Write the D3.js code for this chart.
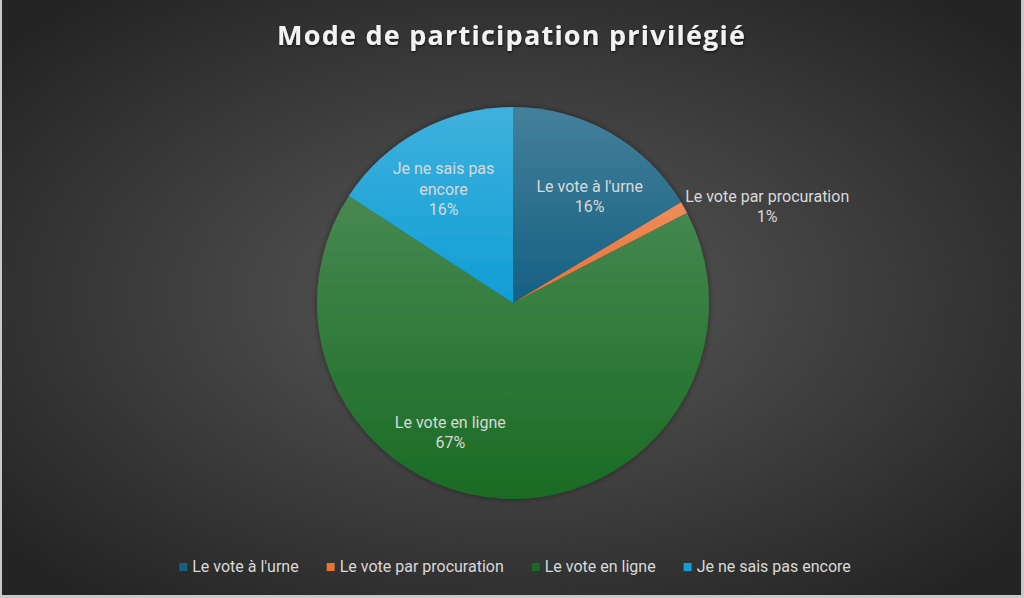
<!DOCTYPE html>
<html>
<head>
<meta charset="utf-8">
<script src="https://cdn.jsdelivr.net/npm/d3@7"></script>
<style>
  html, body { margin: 0; padding: 0; background: #ffffff; }
  svg { display: block; }
</style>
</head>
<body>
<svg id="chart" width="1024" height="598"></svg>
<script>
// data
const categories = ["Le vote à l'urne", "Le vote par procuration", "Le vote en ligne", "Je ne sais pas encore"];
const values = [16.4, 1.0, 66.8, 15.8];
const labelLines = [["Le vote à l'urne"], ["Le vote par procuration"], ["Le vote en ligne"], ["Je ne sais pas", "encore"]];
const colors = ["#156082", "#E97132", "#196B24", "#0F9ED5"];

const W = 1024, H = 598;
const cx = 513, cy = 303, R = 196;
const font = "'Roboto', sans-serif";
const lineH = 20.5;

// nudges for the data labels (Excel best-fit placement), relative to centroid
const labelNudge = [[11, 10], [18, 36], [-56, -3], [-6, 4]];

const svg = d3.select('#chart');
const defs = svg.append('defs');

// background
const bg = defs.append('radialGradient').attr('id', 'bg')
  .attr('cx', '50%').attr('cy', '50%').attr('r', '65%');
bg.append('stop').attr('offset', '0%').attr('stop-color', '#5a5a5a');
bg.append('stop').attr('offset', '100%').attr('stop-color', '#242424');

svg.append('rect').attr('x', 0).attr('y', 0).attr('width', W).attr('height', H).attr('fill', '#c9c9c9');
svg.append('rect').attr('x', 2).attr('y', 0).attr('width', W - 5).attr('height', H - 3).attr('fill', 'url(#bg)');

// slice gradients
colors.forEach(function(c, i) {
  const g = defs.append('linearGradient').attr('id', 'g' + i)
    .attr('x1', 0).attr('y1', 0).attr('x2', 0).attr('y2', 1);
  g.append('stop').attr('offset', '0%').attr('stop-color', d3.interpolateRgb(c, '#ffffff')(0.2));
  g.append('stop').attr('offset', '100%').attr('stop-color', c);
});

const shadow = defs.append('filter').attr('id', 'shadow')
  .attr('x', '-20%').attr('y', '-20%').attr('width', '140%').attr('height', '140%');
shadow.append('feDropShadow').attr('dx', 0).attr('dy', 0).attr('stdDeviation', 3)
  .attr('flood-color', '#000').attr('flood-opacity', 0.45);

const titleShadow = defs.append('filter').attr('id', 'tshadow');
titleShadow.append('feDropShadow').attr('dx', 0.5).attr('dy', 1.5).attr('stdDeviation', 1.2)
  .attr('flood-color', '#000').attr('flood-opacity', 0.6);

// title
svg.append('text')
  .attr('x', 511).attr('y', 45)
  .attr('text-anchor', 'middle')
  .attr('font-family', "'Open Sans', sans-serif")
  .attr('font-weight', 'bold')
  .attr('font-size', 27)
  .attr('textLength', 468)
  .attr('lengthAdjust', 'spacing')
  .attr('fill', '#f2f2f2')
  .attr('filter', 'url(#tshadow)')
  .text('Mode de participation privilégié');

// pie
const pie = d3.pie().sort(null).value(d => d);
const arcs = pie(values);
const arc = d3.arc().innerRadius(0).outerRadius(R);
const labelArc = d3.arc().innerRadius(R * 0.68).outerRadius(R * 0.68);
const outArc = d3.arc().innerRadius(R * 1.38).outerRadius(R * 1.38);

const g = svg.append('g').attr('transform', `translate(${cx},${cy})`);

g.append('g').attr('filter', 'url(#shadow)')
  .selectAll('path')
  .data(arcs)
  .join('path')
  .attr('d', arc)
  .attr('fill', (d, i) => `url(#g${i})`);

const total = d3.sum(values);
const pct = d3.format('.0%');

arcs.forEach(function(d, i) {
  const small = (d.endAngle - d.startAngle) < 0.2;
  const c = small ? outArc.centroid(d) : labelArc.centroid(d);
  const x = c[0] + labelNudge[i][0];
  const lines = labelLines[i].concat([pct(values[i] / total)]);
  const y = c[1] + labelNudge[i][1] - (lines.length - 1) * lineH / 2 + 5;
  const t = g.append('text')
    .attr('text-anchor', 'middle')
    .attr('font-family', font)
    .attr('font-size', 16)
    .attr('fill', '#d9d9d9');
  lines.forEach(function(l, j) {
    t.append('tspan').attr('x', x).attr('y', y + j * lineH).text(l);
  });
});

// legend
const legend = svg.append('g');
const items = legend.selectAll('g').data(categories).join('g');
items.append('rect').attr('width', 8).attr('height', 8).attr('y', -9)
  .attr('fill', (d, i) => colors[i]);
items.append('text').attr('x', 13)
  .attr('font-family', font).attr('font-size', 16).attr('fill', '#d9d9d9')
  .text(d => d);
let lx = 0;
items.each(function() {
  const w = this.getBBox().width;
  d3.select(this).attr('transform', `translate(${lx},0)`);
  lx += w + 28;
});
lx -= 28;
legend.attr('transform', `translate(${515 - lx / 2},572)`);
</script>
</body>
</html>
